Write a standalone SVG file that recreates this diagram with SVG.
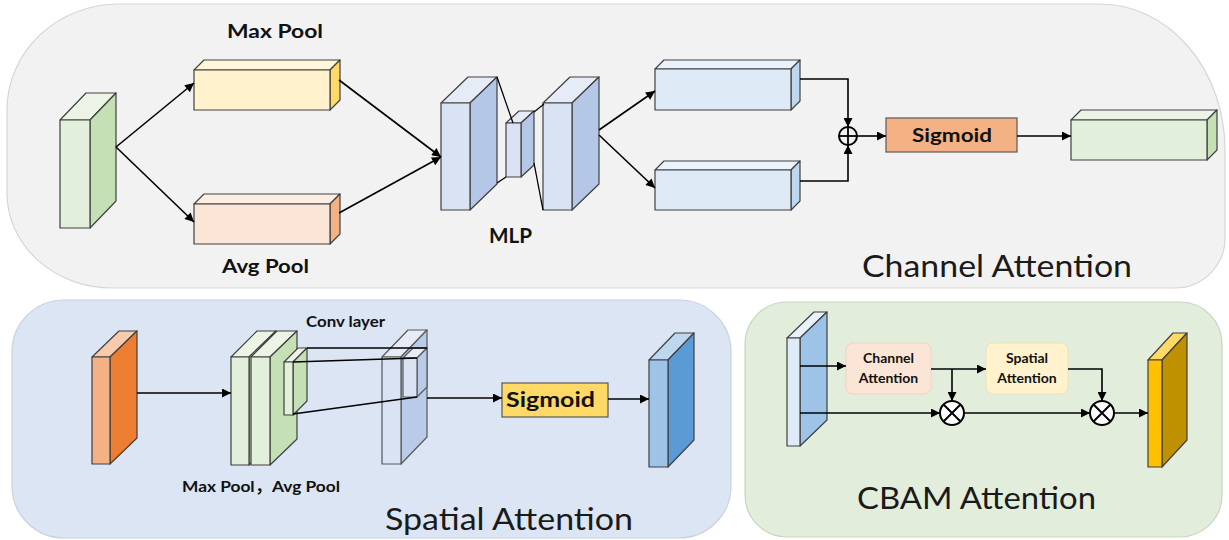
<svg xmlns="http://www.w3.org/2000/svg" width="1229" height="540" viewBox="0 0 1229 540">
<defs>
<marker id="ah" viewBox="0 0 10 10" refX="10" refY="5" markerWidth="11" markerHeight="9" markerUnits="userSpaceOnUse" orient="auto">
<path d="M0,0 L10,5 L0,10 Z" fill="#000"/>
</marker>
</defs>
<style>
.cub polygon{stroke:#404040;stroke-width:1.2;stroke-linejoin:round}
.con{fill:none;stroke:#000;stroke-width:1.6}
.arr{marker-end:url(#ah)}
.lbl{font-family:Lato,"Liberation Sans","Noto Sans CJK SC",sans-serif;font-weight:bold;fill:#111}
.ttl{font-family:Lato,"Liberation Sans",sans-serif;font-weight:normal;fill:#1a1a1a;font-size:31px}
.op{fill:#fff;stroke:#000;stroke-width:2}
</style>

<!-- panels -->
<g id="panel-channel">
<path d="M119,4 H1100 A125,146 0 0 1 1225,150 V238 A50,50 0 0 1 1175,288 H112 A105,95 0 0 1 7,193 V110 A112,106 0 0 1 119,4 Z" fill="#f2f2f2" stroke="#d6d6d6" stroke-width="1.2"/>
<text class="ttl" x="862" y="277" textLength="270" lengthAdjust="spacingAndGlyphs">Channel Attention</text>
</g>
<g id="panel-spatial">
<rect x="12" y="300" width="719" height="238" rx="52" ry="52" fill="#dbe5f3" stroke="#c9d2de" stroke-width="1.2"/>
<text class="ttl" x="385" y="530" font-size="32" textLength="248" lengthAdjust="spacingAndGlyphs">Spatial Attention</text>
</g>
<g id="panel-cbam">
<rect x="745" y="302" width="477" height="235" rx="42" ry="42" fill="#e2eedb" stroke="#c8d6bf" stroke-width="1.2"/>
<text class="ttl" x="857" y="509" font-size="32" textLength="239" lengthAdjust="spacingAndGlyphs">CBAM Attention</text>
</g>

<!-- Channel attention nodes -->
<g id="ca-input" class="cub">
<polygon points="60,120 86,93 116,93 90,120" fill="#ebf4e5"/>
<polygon points="90,120 116,93 116,201 90,228" fill="#c5e0b4"/>
<polygon points="60,120 90,120 90,228 60,228" fill="#e2efda"/>
</g>
<g id="ca-maxpool" class="cub">
<polygon points="194,70 204,60 340,60 330,70" fill="#fff6dc"/>
<polygon points="330,70 340,60 340,100 330,110" fill="#ffd966"/>
<polygon points="194,70 330,70 330,110 194,110" fill="#fff2cc"/>
<text class="lbl" x="227" y="38" font-size="19" textLength="96" lengthAdjust="spacingAndGlyphs">Max Pool</text>
</g>
<g id="ca-avgpool" class="cub">
<polygon points="194,204 204,194 340,194 330,204" fill="#fdeee4"/>
<polygon points="330,204 340,194 340,234 330,244" fill="#f4b183"/>
<polygon points="194,204 330,204 330,244 194,244" fill="#fbe5d6"/>
<text class="lbl" x="222" y="273" font-size="19" textLength="87" lengthAdjust="spacingAndGlyphs">Avg Pool</text>
</g>
<g id="ca-mlp" class="cub">
<polygon points="441,103 468,77 497,77 470,103" fill="#e6ecf7"/>
<polygon points="470,103 497,77 497,184 470,210" fill="#b4c7e7"/>
<polygon points="441,103 470,103 470,210 441,210" fill="#dae3f3"/>
<polygon points="506,123 519,111 534,111 521,123" fill="#e6ecf7"/>
<polygon points="521,123 534,111 534,165 521,177" fill="#b4c7e7"/>
<polygon points="506,123 521,123 521,177 506,177" fill="#dae3f3"/>
<polygon points="543,103 570,77 599,77 572,103" fill="#e6ecf7"/>
<polygon points="572,103 599,77 599,184 572,210" fill="#b4c7e7"/>
<polygon points="543,103 572,103 572,210 543,210" fill="#dae3f3"/>
<line x1="497" y1="77" x2="513" y2="123" stroke="#000" stroke-width="1.3"/>
<line x1="497" y1="183" x2="506" y2="177" stroke="#000" stroke-width="1.3"/>
<line x1="534" y1="112" x2="544" y2="104" stroke="#000" stroke-width="1.3"/>
<line x1="534" y1="163" x2="543" y2="210" stroke="#000" stroke-width="1.3"/>
<text class="lbl" x="489" y="243" font-size="20" textLength="43" lengthAdjust="spacingAndGlyphs">MLP</text>
</g>
<g id="ca-out1" class="cub">
<polygon points="655,69 664,60 800,60 791,69" fill="#eaf2fb"/>
<polygon points="791,69 800,60 800,101 791,110" fill="#bdd7ee"/>
<polygon points="655,69 791,69 791,110 655,110" fill="#deebf7"/>
</g>
<g id="ca-out2" class="cub">
<polygon points="655,170 664,161 800,161 791,170" fill="#eaf2fb"/>
<polygon points="791,170 800,161 800,201 791,210" fill="#bdd7ee"/>
<polygon points="655,170 791,170 791,210 655,210" fill="#deebf7"/>
</g>
<g id="ca-add">
<circle cx="848" cy="136" r="9" fill="none" stroke="#000" stroke-width="2"/>
<line x1="839" y1="136" x2="857" y2="136" stroke="#000" stroke-width="1.8"/>
<line x1="848" y1="127" x2="848" y2="145" stroke="#000" stroke-width="1.8"/>
</g>
<g id="ca-sigmoid">
<rect x="886" y="118" width="131" height="34" fill="#f4b183" stroke="#595959" stroke-width="1.2"/>
<text class="lbl" x="912" y="142" font-size="19" textLength="80" lengthAdjust="spacingAndGlyphs">Sigmoid</text>
</g>
<g id="ca-output" class="cub">
<polygon points="1071,120 1081,110 1217,110 1207,120" fill="#ebf4e5"/>
<polygon points="1207,120 1217,110 1217,150 1207,160" fill="#c5e0b4"/>
<polygon points="1071,120 1207,120 1207,160 1071,160" fill="#e2efda"/>
</g>

<!-- Spatial attention nodes -->
<g id="sa-input" class="cub">
<polygon points="92,357 119,331 137,331 110,357" fill="#f8cbad"/>
<polygon points="110,357 137,331 137,438 110,464" fill="#ed7d31"/>
<polygon points="92,357 110,357 110,464 92,464" fill="#f4b183"/>
</g>
<g id="sa-pool" class="cub">
<polygon points="231,357 257,331 276,331 249,357" fill="#ebf4e5"/>
<polygon points="249,357 276,331 276,439 249,465" fill="#c5e0b4"/>
<polygon points="231,357 249,357 249,465 231,465" fill="#e2efda"/>
<polygon points="251,357 277,331 297,331 270,357" fill="#ebf4e5"/>
<polygon points="270,357 297,331 297,439 270,465" fill="#c5e0b4"/>
<polygon points="251,357 270,357 270,465 251,465" fill="#e2efda"/>
<polygon points="284,362 298,348 307,348 293,362" fill="#ebf4e5"/>
<polygon points="293,362 307,348 307,401 293,415" fill="#c5e0b4"/>
<polygon points="284,362 293,362 293,415 284,415" fill="#e2efda"/>
<text class="lbl" x="182" y="492" font-size="16" textLength="158" lengthAdjust="spacingAndGlyphs">Max Pool，Avg Pool</text>
</g>
<g id="sa-conv" class="cub" opacity="0.85">
<polygon points="382,357 408,330 427,330 401,357" fill="#e8edf7"/>
<polygon points="401,357 427,330 427,437 401,464" fill="#b4c7e7"/>
<polygon points="382,357 401,357 401,464 382,464" fill="#dae3f3"/>
<polygon points="403,358 413,348 427,348 417,358" fill="#e8edf7"/>
<polygon points="417,358 427,348 427,387 417,397" fill="#b4c7e7"/>
<polygon points="403,358 417,358 417,397 403,397" fill="#dae3f3"/>
</g>
<g id="sa-conv-label">
<line x1="307" y1="348" x2="427" y2="348" stroke="#000" stroke-width="1.4"/>
<line x1="293" y1="362" x2="417" y2="358" stroke="#000" stroke-width="1.4"/>
<line x1="293" y1="414" x2="417" y2="397" stroke="#000" stroke-width="1.4"/>
<text class="lbl" x="306" y="327" font-size="15" textLength="79" lengthAdjust="spacingAndGlyphs">Conv layer</text>
</g>
<g id="sa-sigmoid">
<rect x="502" y="383" width="106" height="34" fill="#ffd966" stroke="#595959" stroke-width="1.2"/>
<text class="lbl" x="506" y="407" font-size="20" textLength="89" lengthAdjust="spacingAndGlyphs">Sigmoid</text>
</g>
<g id="sa-output" class="cub">
<polygon points="649,360 675,333 694,333 668,360" fill="#bdd7ee"/>
<polygon points="668,360 694,333 694,440 668,467" fill="#5b9bd5"/>
<polygon points="649,360 668,360 668,467 649,467" fill="#9dc3e6"/>
</g>

<!-- CBAM nodes -->
<g id="cb-input" class="cub">
<polygon points="787,338 814,312 827,312 800,338" fill="#e9f1fa"/>
<polygon points="800,338 827,312 827,420 800,446" fill="#9dc3e6"/>
<polygon points="787,338 800,338 800,446 787,446" fill="#deebf7"/>
</g>
<g id="cb-channel">
<rect x="846" y="343" width="85" height="51" rx="7" fill="#fbe5d6" stroke="#f1d2bf" stroke-width="1"/>
<text class="lbl" x="888.5" y="363" font-size="14" text-anchor="middle">Channel</text>
<text class="lbl" x="888.5" y="383" font-size="14" text-anchor="middle">Attention</text>
</g>
<g id="cb-spatial">
<rect x="986" y="343" width="82" height="51" rx="7" fill="#fff2cc" stroke="#efe0b4" stroke-width="1"/>
<text class="lbl" x="1027" y="363" font-size="14" text-anchor="middle">Spatial</text>
<text class="lbl" x="1027" y="383" font-size="14" text-anchor="middle">Attention</text>
</g>
<g id="cb-mul1">
<circle class="op" cx="952" cy="413" r="12"/>
<path d="M943.5,404.5 L960.5,421.5 M960.5,404.5 L943.5,421.5" stroke="#000" stroke-width="2"/>
</g>
<g id="cb-mul2">
<circle class="op" cx="1102" cy="413" r="12"/>
<path d="M1093.5,404.5 L1110.5,421.5 M1110.5,404.5 L1093.5,421.5" stroke="#000" stroke-width="2"/>
</g>
<g id="cb-output" class="cub">
<polygon points="1148,360 1173,333 1187,333 1162,360" fill="#ffd966"/>
<polygon points="1162,360 1187,333 1187,440 1162,467" fill="#bf9000"/>
<polygon points="1148,360 1162,360 1162,467 1148,467" fill="#ffc000"/>
</g>

<!-- connectors -->
<g id="connectors">
<path class="con arr" d="M116,147 L194,83"/>
<path class="con arr" d="M116,147 L194,222"/>
<path class="con arr" d="M339,80 L441,157"/>
<path class="con arr" d="M339,213 L441,157"/>
<path class="con arr" d="M599,130 L655,91"/>
<path class="con arr" d="M599,135 L655,188"/>
<path class="con arr" d="M800,79 H848 V127"/>
<path class="con arr" d="M800,181 H848 V145"/>
<path class="con arr" d="M857,136 H886"/>
<path class="con arr" d="M1017,136 H1071"/>
<path class="con arr" d="M137,393 H231"/>
<path class="con arr" d="M427,398 H502"/>
<path class="con arr" d="M608,399 H649"/>
<path class="con arr" d="M800,366 H846"/>
<path class="con arr" d="M931,369 H986"/>
<path class="con arr" d="M952,369 V401"/>
<path class="con arr" d="M1068,369 H1102 V401"/>
<path class="con arr" d="M800,413 H940"/>
<path class="con arr" d="M964,413 H1090"/>
<path class="con arr" d="M1114,413 H1148"/>
</g>
</svg>
